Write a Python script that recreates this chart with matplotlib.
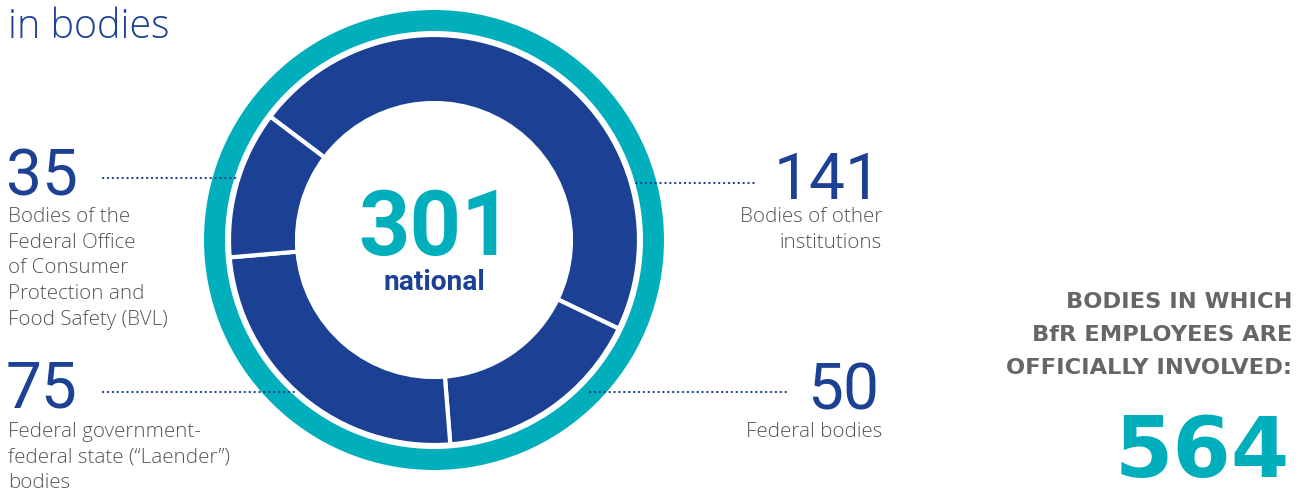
import matplotlib
matplotlib.use("Agg")
import matplotlib.pyplot as plt
from matplotlib.patches import Wedge

# data
counts = [141, 50, 75, 35]
total_national = 301
total_all = 564
title = "in bodies"
left_labels = {
    "35": ["Bodies of the", "Federal Office", "of Consumer", "Protection and", "Food Safety (BVL)"],
    "75": ["Federal government-", "federal state (\u201cLaender\u201d)", "bodies"],
}
right_labels = {
    "141": ["Bodies of other", "institutions"],
    "50": ["Federal bodies"],
}
heading = ["BODIES IN WHICH", "BfR EMPLOYEES ARE", "OFFICIALLY INVOLVED:"]

BLUE = "#1B4094"
TEAL = "#00AEBC"
GREY = "#555555"
HEAD_GREY = "#666666"

W, H = 1302, 492
PT = 72 / 100.0  # px -> pt at dpi 100

fig = plt.figure(figsize=(W / 100, H / 100), dpi=100)
ax = fig.add_axes([0, 0, 1, 1])

def Y(y):
    # pixel row (top down) -> data y
    return H - y

cx, cy = 434, Y(240)

# outer teal ring
ax.add_patch(Wedge((cx, cy), 230, 0, 360, width=21, facecolor=TEAL, edgecolor="none"))

# donut
ax.pie(counts, colors=[BLUE] * len(counts), startangle=143, counterclock=False,
       radius=205, center=(cx, cy),
       wedgeprops=dict(width=68, edgecolor="white", linewidth=3))

ax.set_xlim(0, W)
ax.set_ylim(0, H)
ax.set_aspect("equal")
ax.axis("off")

# title
ax.text(8, Y(38), title, color=BLUE, fontsize=39.5 * PT, family="Open Sans",
        fontweight="light", va="baseline", ha="left")

# dotted leader lines
dot = dict(color=BLUE, linewidth=1.6, linestyle=(0, (0.1, 2.1)),
           dash_capstyle="round", zorder=5)
ax.plot([103, 236], [Y(178), Y(178)], **dot)
ax.plot([103, 296], [Y(392), Y(392)], **dot)
ax.plot([636, 757], [Y(183), Y(183)], **dot)
ax.plot([590, 787], [Y(392), Y(392)], **dot)

numfont = dict(color=BLUE, fontsize=64 * PT, family="Roboto", va="baseline")
descfont = dict(color=GREY, fontsize=20.5 * PT, family="Open Sans", fontweight="light",
                va="center")

# left side labels
for (num, lines), base, first in zip(left_labels.items(), [196, 408], [217, 432]):
    ax.text(6, Y(base), num, ha="left", **numfont)
    for i, ln in enumerate(lines):
        ax.text(8, Y(first + i * 25.7), ln, ha="left", **descfont)

# right side labels
for (num, lines), base, first, rx in zip(right_labels.items(), [199, 409], [217, 432], [882, 879]):
    ax.text(rx, Y(base), num, ha="right", **numfont)
    for i, ln in enumerate(lines):
        ax.text(882, Y(first + i * 25.7), ln, ha="right", **descfont)

# centre
ax.text(cx + 2, Y(255), str(total_national), color=TEAL, fontsize=90 * PT, family="Roboto",
        fontweight="bold", ha="center", va="baseline")
ax.text(cx, Y(290), "national", color=BLUE, fontsize=28 * PT, family="Roboto",
        fontweight="bold", ha="center", va="baseline")

# heading and grand total
for i, ln in enumerate(heading):
    ax.text(1292, Y(302 + i * 33), ln, color=HEAD_GREY, fontsize=22.5 * PT,
            family="DejaVu Sans", fontweight="bold", ha="right", va="center")
ax.text(1290, Y(477), str(total_all), color=TEAL, fontsize=84 * PT, family="DejaVu Sans",
        fontweight="bold", ha="right", va="baseline")

fig.savefig("out.png", dpi=100)
